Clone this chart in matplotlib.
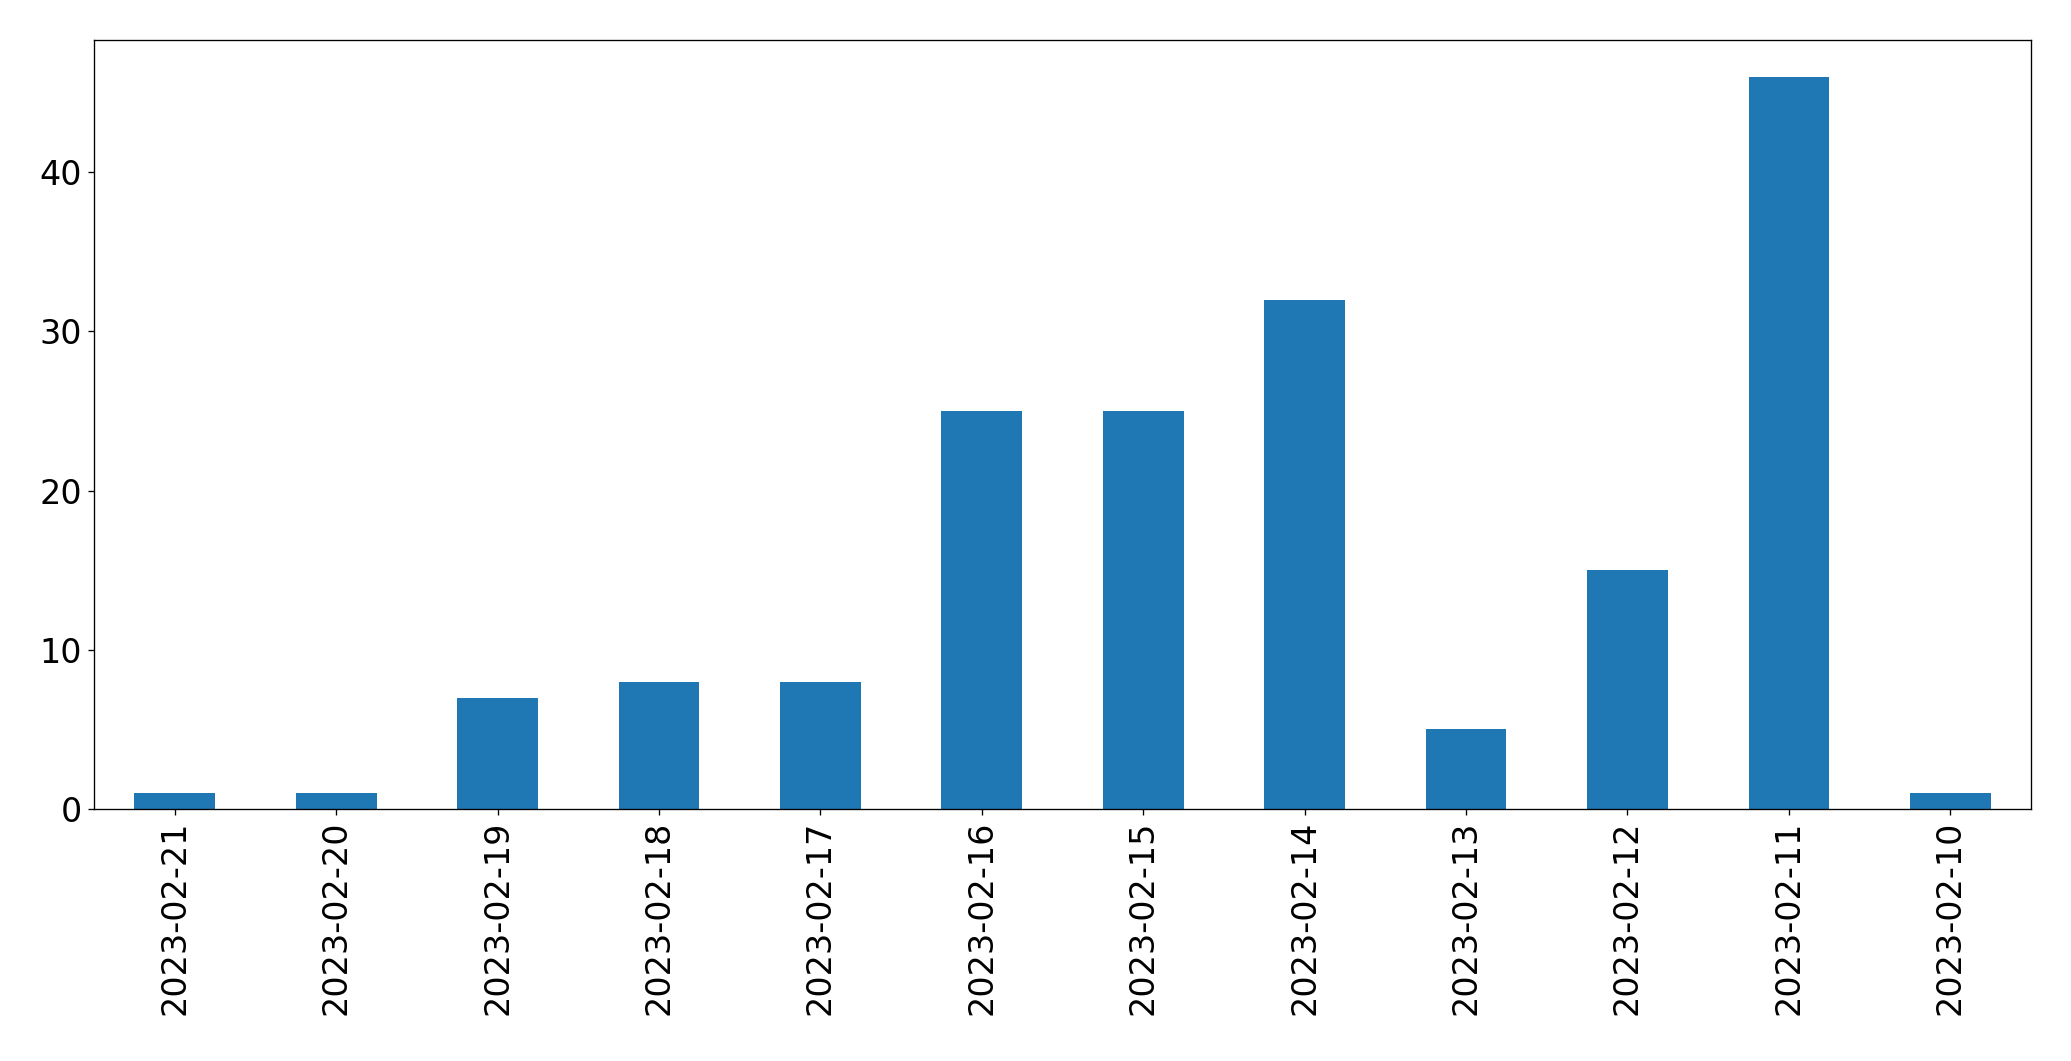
import matplotlib
matplotlib.use('Agg')
import matplotlib.pyplot as plt
import numpy as np

# daily counts, in the order they appear on the chart
dates = ['2023-02-21', '2023-02-20', '2023-02-19', '2023-02-18', '2023-02-17', '2023-02-16',
         '2023-02-15', '2023-02-14', '2023-02-13', '2023-02-12', '2023-02-11', '2023-02-10']
counts = [1, 1, 7, 8, 8, 25, 25, 32, 5, 15, 46, 1]

dpi = 120
fig = plt.figure(figsize=(2071 / dpi, 1061 / dpi), dpi=dpi)
ax = fig.add_axes([0.0454, 0.2375, 0.9353, 0.7248])

x = np.arange(len(dates))
ax.bar(x, counts, width=0.5, color='#1f77b4')
ax.set_xlim(-0.5, len(dates) - 0.5)
ax.set_ylim(0, max(counts) * 1.05)
ax.set_xticks(x)
ax.set_xticklabels(dates, rotation=90)
ax.set_yticks([0, 10, 20, 30, 40])
ax.tick_params(labelsize=20)

fig.savefig('out.png', dpi=dpi)
